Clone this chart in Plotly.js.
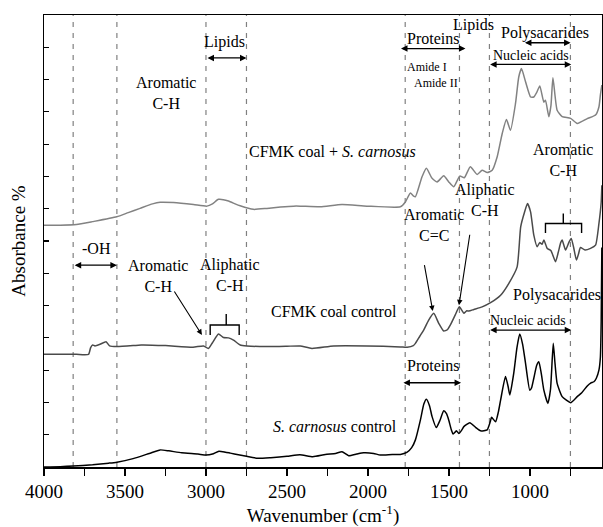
<!DOCTYPE html>
<html>
<head>
<meta charset="utf-8">
<script src="https://cdn.plot.ly/plotly-3.0.1.min.js"></script>
<style>html,body{margin:0;padding:0;background:#fff;}#chart{width:603px;height:527px;}</style>
</head>
<body>
<div id="chart"></div>
<script>
// ---- data (wavenumber, cm-1) ----
const carnosusX = [4000,3900,3820,3700,3600,3550,3450,3350,3283,3230,3150,3050,3000,2960,2920,2880,2850,2800,2750,2680,2600,2500,2420,2340,2263,2200,2160,2119,2070,2027,1965,1924,1850,1800,1760,1730,1707,1676,1655,1639,1620,1604,1578,1555,1532,1515,1501,1485,1474,1454,1439,1420,1408,1371,1336,1305,1264,1245,1237,1212,1195,1181,1151,1135,1124,1100,1080,1063,1045,1027,1001,990,976,958,945,930,914,889,873,856,845,832,801,775,749,708,680,646,625,605,590,574,565,560,556];
const carnosusY = [0.00,0.01,0.03,0.07,0.12,0.15,0.26,0.42,0.53,0.50,0.44,0.40,0.37,0.40,0.49,0.46,0.43,0.38,0.33,0.27,0.29,0.33,0.38,0.32,0.39,0.42,0.47,0.35,0.40,0.44,0.42,0.37,0.39,0.39,0.45,0.60,0.84,1.46,1.95,2.10,1.90,1.56,1.22,1.45,1.74,1.65,1.45,1.15,1.02,1.12,1.04,1.15,1.25,1.37,1.23,1.12,1.15,1.40,1.54,1.40,1.70,2.07,2.80,2.50,2.23,2.90,3.70,4.12,3.80,3.21,2.38,2.45,2.75,3.15,3.26,2.90,2.38,1.97,2.40,3.83,3.20,2.59,2.18,2.07,1.99,2.18,2.30,2.51,2.60,2.64,2.75,3.00,3.40,4.50,6.80];

const coalX = [4000,3900,3800,3725,3712,3700,3685,3654,3617,3595,3550,3450,3400,3250,3080,3015,2985,2960,2923,2892,2861,2830,2789,2747,2624,2500,2418,2346,2212,2006,1800,1758,1720,1707,1680,1656,1625,1594,1563,1532,1510,1491,1461,1436,1420,1408,1390,1377,1346,1295,1243,1181,1130,1079,1057,1033,1015,996,976,955,940,925,914,893,870,842,825,810,801,780,760,745,730,713,700,688,660,626,595,574,560,556];
const coalY = [3.49,3.49,3.49,3.49,3.70,3.78,3.75,3.80,3.88,3.75,3.73,3.76,3.78,3.76,3.71,3.75,3.67,3.85,4.12,4.01,4.00,3.93,3.78,3.75,3.73,3.74,3.75,3.67,3.75,3.75,3.72,3.71,3.76,3.83,4.05,4.24,4.55,4.76,4.45,4.21,4.25,4.40,4.71,4.96,4.85,4.76,4.84,4.83,4.88,4.96,5.09,5.32,5.69,6.20,7.44,7.90,8.16,7.90,7.18,6.82,6.95,6.90,7.03,6.77,6.70,6.36,6.65,6.95,7.03,6.72,6.95,7.08,6.80,6.41,6.60,6.80,6.72,6.77,6.87,7.54,8.20,8.73];

const mixX = [4000,3900,3800,3700,3551,3480,3407,3330,3283,3201,3077,2994,2960,2923,2861,2820,2789,2707,2624,2540,2459,2418,2294,2160,2006,1800,1769,1738,1720,1707,1666,1639,1604,1573,1532,1501,1470,1433,1405,1368,1326,1295,1264,1233,1202,1171,1145,1120,1089,1069,1052,1027,996,976,958,939,914,904,883,870,858,832,801,749,708,646,595,574,565,556];
const mixY = [7.49,7.49,7.51,7.60,7.75,7.88,8.01,8.15,8.20,8.19,8.13,8.08,8.15,8.29,8.24,8.15,8.09,7.98,8.01,8.05,8.08,8.08,8.06,8.13,8.08,8.06,8.21,8.49,8.40,8.37,8.99,9.25,8.94,8.83,9.02,8.83,8.68,9.01,8.96,9.30,9.06,9.19,9.12,9.19,9.61,10.33,10.76,10.43,11.26,12.08,12.34,11.93,11.46,11.46,11.60,11.80,11.30,11.36,10.85,11.20,12.06,11.05,10.85,10.80,10.64,10.79,10.90,11.15,11.52,11.83];

const seriesNames = ['S. carnosus control','CFMK coal control','CFMK coal + S. carnosus'];
const xTickVals = [4000,3500,3000,2500,2000,1500,1000];
const xTickText = ['4000','3500','3000','2500','2000','1500','1000'];
const bandLines = [3820,3550,3000,2750,1770,1435,1250,750];

const serif = '"Liberation Serif", "Times New Roman", Times, serif';

const traces = [
  {x: carnosusX, y: carnosusY, name: seriesNames[0], mode:'lines', line:{color:'#000000', width:1.5, shape:'spline', smoothing:0.5}},
  {x: coalX, y: coalY, name: seriesNames[1], mode:'lines', line:{color:'#4a4a4a', width:1.5, shape:'spline', smoothing:0.5}},
  {x: mixX, y: mixY, name: seriesNames[2], mode:'lines', line:{color:'#828282', width:1.5, shape:'spline', smoothing:0.5}}
];

const shapes = bandLines.map(v => ({type:'line', xref:'x', yref:'paper', x0:v, x1:v, y0:0, y1:1,
  line:{color:'#808080', width:1.2, dash:'5px,6px'}, layer:'below'}));
// braces
shapes.push({type:'path', xref:'x', yref:'y', path:'M 2974 4.09 L 2974 4.40 L 2795 4.40 L 2795 4.09 M 2875 4.40 L 2875 4.74', line:{color:'#000', width:1.4}});
shapes.push({type:'path', xref:'x', yref:'y', path:'M 904 7.25 L 904 7.54 L 681 7.54 L 681 7.25 M 794 7.54 L 794 7.85', line:{color:'#000', width:1.4}});

function txt(x, y, text, size){
  return {x:x, y:y, xref:'x', yref:'y', text:text, showarrow:false, font:{family:serif, size:size||16, color:'#000'}, xanchor:'center', yanchor:'middle'};
}
function dbl(x0, x1, y){
  return {x:x1, y:y, ax:x0, ay:y, xref:'x', yref:'y', axref:'x', ayref:'y', text:'', showarrow:true,
    arrowhead:2, startarrowhead:2, arrowside:'end+start', arrowsize:1, startarrowsize:1, arrowwidth:1.3, arrowcolor:'#000', standoff:0, startstandoff:0};
}
function arr(x0, y0, x1, y1){
  return {x:x1, y:y1, ax:x0, ay:y0, xref:'x', yref:'y', axref:'x', ayref:'y', text:'', showarrow:true,
    arrowhead:2, arrowsize:1, arrowwidth:1.1, arrowcolor:'#000', standoff:0};
}

const annotations = [
  txt(3244, 11.59, 'Aromatic<br>C-H'),
  txt(2884, 13.17, 'Lipids'),
  dbl(3000, 2750, 12.67),
  txt(2217, 9.76, 'CFMK coal + <i>S. carnosus</i>'),
  txt(1599, 13.27, 'Proteins'),
  dbl(1805, 1398, 12.96),
  txt(1637, 12.39, 'Amide I', 12),
  txt(1580, 11.88, 'Amide II', 12),
  txt(1349, 13.68, 'Lipids'),
  txt(907, 13.43, 'Polysacarides'),
  dbl(1040, 749, 13.14),
  txt(992, 12.76, 'Nucleic acids', 14),
  dbl(1255, 745, 12.47),
  txt(795, 9.50, 'Aromatic<br>C-H'),
  txt(1279, 8.27, 'Aliphatic<br>C-H'),
  arr(1370, 7.24, 1438, 5.01),
  txt(1595, 7.49, 'Aromatic<br>C=C'),
  arr(1653, 6.3, 1600, 4.83),
  txt(3675, 6.77, '-OH'),
  dbl(3820, 3550, 6.25),
  txt(3299, 5.91, 'Aromatic<br>C-H'),
  arr(3201, 5.48, 3025, 4.09),
  txt(2853, 5.94, 'Aliphatic<br>C-H'),
  txt(2209, 4.81, 'CFMK coal control'),
  txt(832, 5.33, 'Polysacarides'),
  txt(1013, 4.55, 'Nucleic acids', 14),
  dbl(1255, 745, 4.24),
  txt(1600, 3.13, 'Proteins'),
  dbl(1790, 1425, 2.61),
  txt(2201, 1.25, '<i>S. carnosus</i> control')
];

const layout = {
  width:603, height:527,
  margin:{l:44, r:1, t:15, b:60},
  paper_bgcolor:'#fff', plot_bgcolor:'#fff',
  showlegend:false,
  font:{family:serif, size:16, color:'#000'},
  xaxis:{
    range:[4000,555], tickvals:xTickVals, ticktext:xTickText,
    ticks:'outside', ticklen:7, tickwidth:1.2, tickcolor:'#000',
    minor:{tickvals:[3750,3250,2750,2250,1750,1250,750], ticks:'outside', ticklen:7, tickwidth:1.2, tickcolor:'#000'},
    showgrid:false, zeroline:false, showline:true, linecolor:'#000', linewidth:1.5, mirror:true,
    tickfont:{family:serif, size:19, color:'#000'},
    title:{text:'Wavenumber (cm<sup>-1</sup>)', font:{family:serif, size:19, color:'#000'}, standoff:6}
  },
  yaxis:{
    range:[0,14], tickvals:[0,1,2,3,4,5,6,7,8,9,10,11,12,13,14], showticklabels:false,
    ticks:'inside', ticklen:5, tickwidth:1.2, tickcolor:'#000',
    showgrid:false, zeroline:false, showline:true, linecolor:'#000', linewidth:1.5, mirror:true,
    title:{text:'Absorbance %', font:{family:serif, size:19, color:'#000'}, standoff:12}
  },
  shapes:shapes,
  annotations:annotations
};

Plotly.newPlot('chart', traces, layout, {displayModeBar:false, staticPlot:true});
</script>
</body>
</html>
